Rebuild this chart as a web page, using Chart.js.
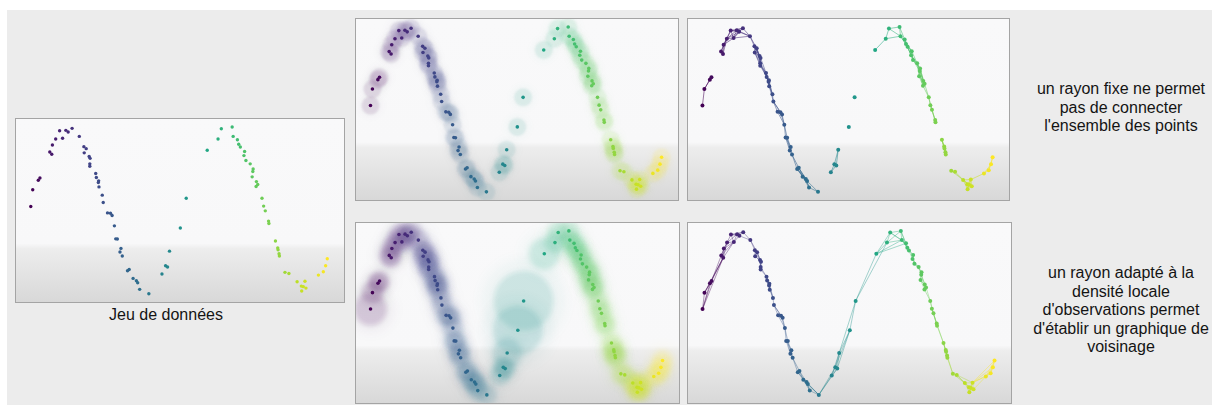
<!DOCTYPE html>
<html lang="fr">
<head>
<meta charset="utf-8">
<script src="https://cdn.jsdelivr.net/npm/chart.js@4/dist/chart.umd.min.js"></script>
<style>
    html, body {
        margin: 0;
        padding: 0;
        width: 1212px;
        height: 405px;
        overflow: hidden;
        background: #ffffff;
        font-family: "Liberation Sans", Arial, sans-serif;
    }
    .backdrop {
        position: absolute;
        left: 7px;
        top: 10px;
        right: 0;
        bottom: 0;
        background: #ececec;
    }
    .panel {
        position: absolute;
        border: 1px solid #a4a4a4;
        background: linear-gradient(to bottom,
            #f9f9fa 0%, #f8f8f9 68%, #ededed 71%, #d8d8d8 100%);
    }
    .panel canvas {
        display: block;
    }
    .caption {
        position: absolute;
        font-size: 16px;
        line-height: 18.5px;
        color: #141414;
        text-align: center;
        white-space: nowrap;
    }
</style>
</head>
<body>
<div class="backdrop"></div>

<div class="panel" style="left:15px;top:118px;width:328px;height:183px"><canvas id="dataChart"></canvas></div>
<div class="panel" style="left:355px;top:18px;width:322px;height:181px"><canvas id="fixedRadiusChart"></canvas></div>
<div class="panel" style="left:687px;top:18px;width:321px;height:181px"><canvas id="fixedGraphChart"></canvas></div>
<div class="panel" style="left:355px;top:222px;width:323px;height:180px"><canvas id="adaptRadiusChart"></canvas></div>
<div class="panel" style="left:687px;top:222px;width:323px;height:180px"><canvas id="adaptGraphChart"></canvas></div>

<div class="caption" style="left:66px;top:306px;width:200px">Jeu de données</div>
<div class="caption" style="left:1021px;top:80px;width:200px">un rayon fixe ne permet<br>pas de connecter<br>l'ensemble des points</div>
<div class="caption" style="left:1021px;top:264px;width:200px">un rayon adapté à la<br>densité locale<br>d'observations permet<br>d'établir un graphique de<br>voisinage</div>

<script>
/* =========================================================
   DATA (axes 0-100)
========================================================= */
const xVals = [
    4.5, 5.1, 6.8, 7.3, 10.3, 10.9, 11.1, 12.1, 13.3, 14.2,
    15.2, 15.9, 17.1, 19.3, 20.7, 21.4, 20.8, 22.3, 22.6, 22.5,
    22.5, 24.3, 24.5, 25.2, 25.1, 25.3, 26.3, 26.6, 27.9, 28.8,
    29.3, 30.0, 30.4, 30.9, 32.0, 31.7, 32.4, 34.0, 34.5, 35.7,
    36.7, 37.1, 37.7, 40.5, 44.5, 45.6, 46.2, 46.8, 50.1, 51.9,
    58.3, 61.6, 62.6, 65.9, 66.2, 67.5, 67.9, 68.4, 69.7, 69.5,
    70.1, 71.4, 72.3, 72.2, 72.0, 73.3, 73.7, 73.2, 75.0, 75.5,
    76.0, 77.0, 77.1, 79.1, 79.8, 79.9, 80.2, 80.3, 82.0, 83.2,
    85.7, 88.1, 87.0, 87.6, 88.4, 87.1, 92.2, 93.7, 94.4, 94.9
];
const yVals = [
    52.2, 61.3, 66.5, 67.8, 82.0, 80.7, 85.8, 89.1, 93.6, 89.5,
    93.8, 92.9, 94.9, 90.5, 84.9, 83.8, 81.5, 79.5, 78.5, 75.5,
    74.2, 70.2, 68.0, 66.2, 65.3, 62.9, 58.4, 54.4, 48.7, 48.5,
    47.3, 41.6, 34.5, 34.4, 29.3, 27.3, 25.1, 17.1, 17.8, 12.9,
    11.6, 10.5, 6.9, 4.5, 15.3, 19.8, 19.1, 27.8, 40.4, 56.7,
    82.9, 89.1, 94.7, 95.6, 90.5, 88.7, 86.2, 84.7, 82.2, 80.0,
    77.3, 75.5, 72.7, 71.3, 68.4, 65.8, 64.2, 63.1, 56.7, 52.4,
    49.8, 44.2, 42.9, 33.3, 29.5, 28.5, 26.4, 25.1, 16.2, 15.6,
    11.1, 11.3, 8.7, 8.4, 7.6, 6.0, 14.7, 16.5, 19.8, 23.6
];

/* =========================================================
   SETTINGS
========================================================= */
const axisMin = 0;
const axisMax = 100;
const pxPerX = 3.23;        // panel pixels per x unit
const pxPerY = 1.8;         // panel pixels per y unit
const fixedRadius = 9;      // px, top row
const linkDistance = 16.7;  // px, fixed radius graph
const kNeighbours = 4;      // adaptive graph
const minAdaptRadius = 10;

const VIRIDIS = ['#440154', '#482475', '#414487', '#355f8d', '#2a788e', '#21918c',
    '#22a884', '#44bf70', '#7ad151', '#bddf26', '#fde725'];

/* =========================================================
   HELPER
========================================================= */
function hexRgb(h) {
    return [1, 3, 5].map(i => parseInt(h.substr(i, 2), 16));
}

function viridis(t) {
    t = Math.max(0, Math.min(1, t)) * (VIRIDIS.length - 1);
    const i = Math.min(Math.floor(t), VIRIDIS.length - 2);
    const f = t - i;
    const a = hexRgb(VIRIDIS[i]);
    const b = hexRgb(VIRIDIS[i + 1]);
    return a.map((v, k) => Math.round(v + (b[k] - v) * f));
}

const xLo = Math.min(...xVals);
const xHi = Math.max(...xVals);
const pointRgb = xVals.map(x => viridis((x - xLo) / (xHi - xLo)));

function rgba(i, alpha) {
    const c = pointRgb[i];
    return `rgba(${c[0]},${c[1]},${c[2]},${alpha})`;
}

function pxDist(i, j) {
    return Math.hypot((xVals[i] - xVals[j]) * pxPerX, (yVals[i] - yVals[j]) * pxPerY);
}

const points = xVals.map((x, i) => ({ x: x, y: yVals[i] }));
const idx = xVals.map((x, i) => i);

/* =========================================================
   NEIGHBOURHOODS
========================================================= */
const radiusEdges = [];
idx.forEach(i => {
    for (let j = i + 1; j < idx.length; j++) {
        if (pxDist(i, j) < linkDistance) radiusEdges.push([i, j]);
    }
});

const knnSeen = new Set();
const knnEdges = [];
const nearestDist = [];
idx.forEach(i => {
    const others = idx.filter(j => j !== i).sort((a, b) => pxDist(i, a) - pxDist(i, b));
    nearestDist[i] = pxDist(i, others[0]);
    others.slice(0, kNeighbours).forEach(j => {
        const key = Math.min(i, j) + '-' + Math.max(i, j);
        if (!knnSeen.has(key)) {
            knnSeen.add(key);
            knnEdges.push([i, j]);
        }
    });
});

const adaptRadius = nearestDist.map(d => Math.max(d, minAdaptRadius));

/* =========================================================
   PLUGINS
========================================================= */
const graphEdges = {
    id: 'graphEdges',
    beforeDatasetsDraw(chart, args, opts) {
        if (!opts.edges) return;
        const ctx = chart.ctx;
        const sx = chart.scales.x;
        const sy = chart.scales.y;
        ctx.save();
        ctx.lineWidth = opts.width || 0.8;
        opts.edges.forEach(([i, j]) => {
            ctx.strokeStyle = rgba(i, opts.alpha || 0.55);
            ctx.beginPath();
            ctx.moveTo(sx.getPixelForValue(xVals[i]), sy.getPixelForValue(yVals[i]));
            ctx.lineTo(sx.getPixelForValue(xVals[j]), sy.getPixelForValue(yVals[j]));
            ctx.stroke();
        });
        ctx.restore();
    }
};

const softCircles = {
    id: 'softCircles',
    beforeDatasetDraw(chart, args) {
        const ds = chart.data.datasets[args.index];
        if (ds.blur) {
            chart.ctx.save();
            chart.ctx.filter = `blur(${ds.blur}px)`;
        }
    },
    afterDatasetDraw(chart, args) {
        if (chart.data.datasets[args.index].blur) chart.ctx.restore();
    }
};

/* =========================================================
   CHART BUILDER
========================================================= */
function dotSet(r) {
    return {
        data: points,
        backgroundColor: idx.map(i => rgba(i, 1)),
        borderWidth: 0,
        pointRadius: r,
        order: 0
    };
}

function circleSet(radiusFn, alpha, blur, order) {
    return {
        data: points,
        backgroundColor: idx.map(i => rgba(i, alpha)),
        borderWidth: 0,
        pointRadius: ctx => radiusFn(ctx.dataIndex),
        blur: blur,
        order: order
    };
}

function makeChart(id, datasets, edgeOpts) {
    return new Chart(document.getElementById(id), {
        type: 'scatter',
        data: { datasets: datasets },
        options: {
            responsive: true,
            maintainAspectRatio: false,
            animation: false,
            events: [],
            layout: { padding: 0, autoPadding: false },
            plugins: {
                legend: { display: false },
                tooltip: { enabled: false },
                graphEdges: edgeOpts || {}
            },
            scales: {
                x: { type: 'linear', min: axisMin, max: axisMax, display: false },
                y: { type: 'linear', min: axisMin, max: axisMax, display: false }
            }
        },
        plugins: [graphEdges, softCircles]
    });
}

/* =========================================================
   CHART INIT
========================================================= */
makeChart('dataChart', [dotSet(1.7)]);

makeChart('fixedRadiusChart', [
    dotSet(1.8),
    circleSet(() => fixedRadius, 0.11, 1.2, 1),
    circleSet(() => fixedRadius * 1.3, 0.03, 3, 2)
]);

makeChart('fixedGraphChart', [dotSet(2)], { edges: radiusEdges, alpha: 0.6, width: 0.9 });

makeChart('adaptRadiusChart', [
    dotSet(1.8),
    circleSet(i => adaptRadius[i], 0.16, 2.5, 1),
    circleSet(i => adaptRadius[i] * 1.4, 0.05, 6, 2)
]);

makeChart('adaptGraphChart', [dotSet(2)], { edges: knnEdges, alpha: 0.5, width: 0.8 });
</script>
</body>
</html>
